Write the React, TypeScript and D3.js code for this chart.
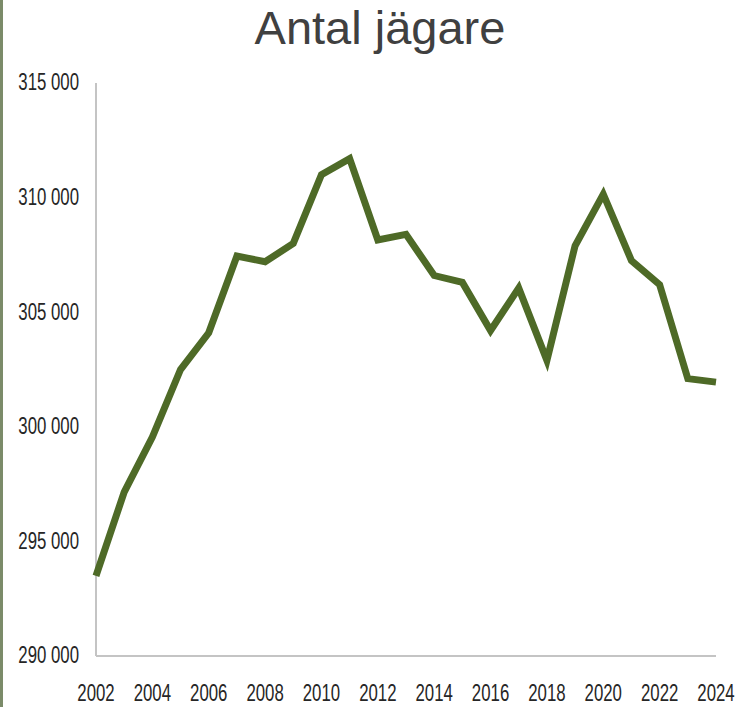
import React from 'react';
import * as d3 from 'd3';

const years = d3.range(2002, 2025);
const hunters = [
  293500, 297150, 299550, 302500, 304100, 307450, 307200, 308000, 311000, 311700,
  308150, 308400, 306600, 306300, 304200, 306050, 302900, 307900, 310150, 307250,
  306200, 302100, 301950,
];
const yTicks = [290000, 295000, 300000, 305000, 310000, 315000];
const xTicks = d3.range(2002, 2025, 2);

const width = 741;
const height = 707;
const margin = { top: 83, right: 25, bottom: 51, left: 96 };

const fmt = (v: number) => d3.format(',')(v).replace(',', ' ');

const App = () => {
  const x = d3.scaleLinear().domain([2002, 2024]).range([margin.left, width - margin.right]);
  const y = d3.scaleLinear().domain([290000, 315000]).range([height - margin.bottom, margin.top]);

  const path = d3.line<number>()
    .x((d, i) => x(years[i]))
    .y(d => y(d))(hunters);

  // narrow Calibri-like look: Liberation Sans squeezed horizontally
  const tickFont = '"Liberation Sans", Arial, sans-serif';
  const squeeze = 0.7;

  return (
    <svg width={width} height={height} style={{ position: 'absolute', left: 0, top: 0 }}>
      <rect x={0} y={0} width={width} height={height} fill="#fff" />
      <rect x={0} y={0} width={3} height={height} fill="#7b8b69" />
      <text x={380} y={44} textAnchor="middle" fontFamily='"Liberation Sans", Arial, sans-serif'
        fontSize={47} fill="#404040">Antal jägare</text>

      <line x1={x(2002)} x2={x(2002)} y1={y(315000)} y2={y(290000)} stroke="#c4c4c4" strokeWidth={2} />
      <line x1={x(2002)} x2={x(2024)} y1={y(290000)} y2={y(290000)} stroke="#c4c4c4" strokeWidth={2} />

      {yTicks.map(t => (
        <text key={t} transform={`translate(79,${y(t) - 1}) scale(${squeeze},1)`} dy="0.35em"
          textAnchor="end" fontFamily={tickFont} fontSize={24} fill="#262626">{fmt(t)}</text>
      ))}
      {xTicks.map(t => (
        <text key={t} transform={`translate(${x(t)},693) scale(${squeeze},1)`} dy="0.35em"
          textAnchor="middle" fontFamily={tickFont} fontSize={24} fill="#262626">{t}</text>
      ))}

      <path d={path || ''} fill="none" stroke="#4e6a27" strokeWidth={7} strokeLinejoin="miter" />
    </svg>
  );
};

export default App;
